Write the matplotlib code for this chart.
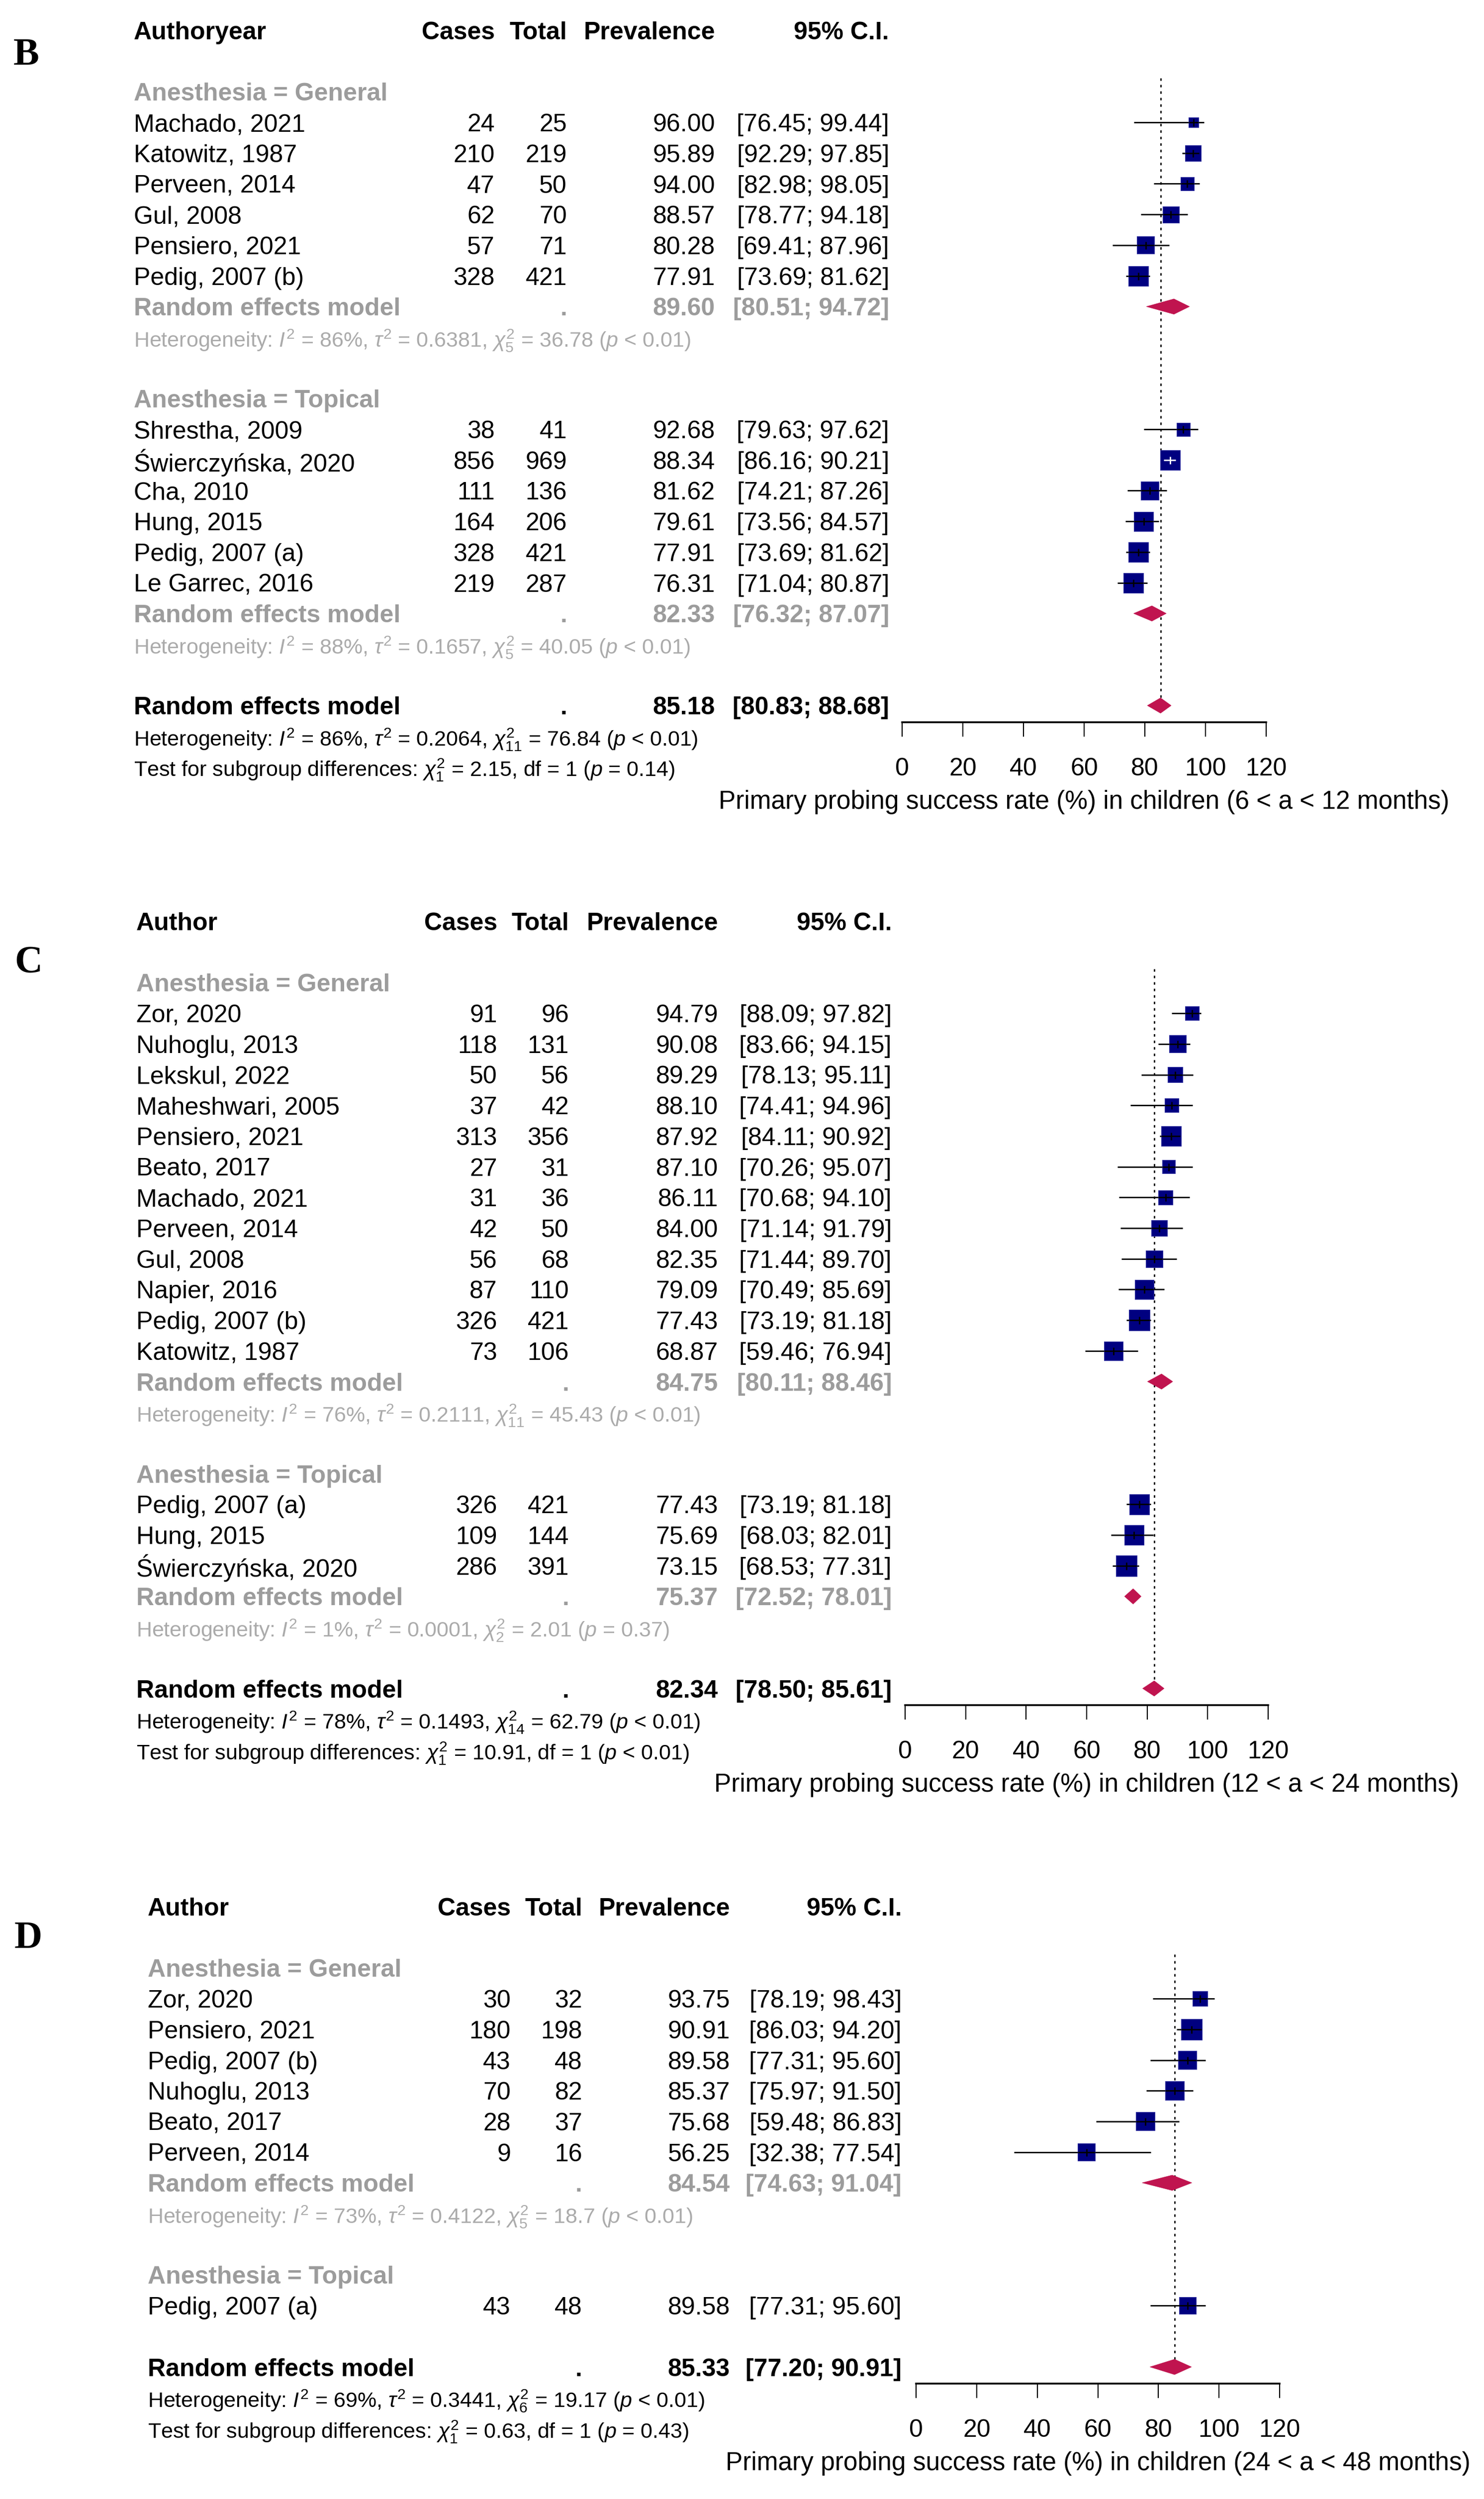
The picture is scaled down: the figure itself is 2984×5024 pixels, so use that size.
import numpy as np
import matplotlib
matplotlib.use("Agg")
import matplotlib.pyplot as plt
from matplotlib import transforms
from matplotlib.patches import Polygon

W, H, DPI = 2984, 5024, 100
plt.rcParams['font.family'] = ['Liberation Sans', 'DejaVu Sans']
plt.rcParams['mathtext.fontset'] = 'custom'
plt.rcParams['mathtext.rm'] = 'Liberation Sans'
plt.rcParams['mathtext.it'] = 'Liberation Sans:italic'
plt.rcParams['mathtext.bf'] = 'Liberation Sans:bold'

# ---------------- B : 6 < a < 12 months ----------------
b_gen_names = ['Machado, 2021', 'Katowitz, 1987', 'Perveen, 2014', 'Gul, 2008',
               'Pensiero, 2021', 'Pedig, 2007 (b)']
b_gen_cases = [24, 210, 47, 62, 57, 328]
b_gen_total = [25, 219, 50, 70, 71, 421]
b_gen_prev = [96.00, 95.89, 94.00, 88.57, 80.28, 77.91]
b_gen_lo = [76.45, 92.29, 82.98, 78.77, 69.41, 73.69]
b_gen_hi = [99.44, 97.85, 98.05, 94.18, 87.96, 81.62]
b_gen_w = [2.7, 7.0, 5.0, 7.4, 8.5, 11.0]   # weights (%)
b_gen_sum = [89.60, 80.51, 94.72]
b_gen_het = ['86%', '0.6381', '36.78', '5', '< 0.01']

b_top_names = ['Shrestha, 2009', 'Świerczyńska, 2020', 'Cha, 2010', 'Hung, 2015',
               'Pedig, 2007 (a)', 'Le Garrec, 2016']
b_top_cases = [38, 856, 111, 164, 328, 219]
b_top_total = [41, 969, 136, 206, 421, 287]
b_top_prev = [92.68, 88.34, 81.62, 79.61, 77.91, 76.31]
b_top_lo = [79.63, 86.16, 74.21, 73.56, 73.69, 71.04]
b_top_hi = [97.62, 90.21, 87.26, 84.57, 81.62, 80.87]
b_top_w = [5.0, 11.0, 9.1, 10.3, 11.0, 11.0]
b_top_sum = [82.33, 76.32, 87.07]
b_top_het = ['88%', '0.1657', '40.05', '5', '< 0.01']

b_all_sum = [85.18, 80.83, 88.68]
b_all_het = ['86%', '0.2064', '76.84', '11', '< 0.01']
b_test = ['2.15', '1', '= 0.14']

# ---------------- C : 12 < a < 24 months ----------------
c_gen_names = ['Zor, 2020', 'Nuhoglu, 2013', 'Lekskul, 2022', 'Maheshwari, 2005',
               'Pensiero, 2021', 'Beato, 2017', 'Machado, 2021', 'Perveen, 2014',
               'Gul, 2008', 'Napier, 2016', 'Pedig, 2007 (b)', 'Katowitz, 1987']
c_gen_cases = [91, 118, 50, 37, 313, 27, 31, 42, 56, 87, 326, 73]
c_gen_total = [96, 131, 56, 42, 356, 31, 36, 50, 68, 110, 421, 106]
c_gen_prev = [94.79, 90.08, 89.29, 88.10, 87.92, 87.10, 86.11, 84.00, 82.35, 79.09, 77.43, 68.87]
c_gen_lo = [88.09, 83.66, 78.13, 74.41, 84.11, 70.26, 70.68, 71.14, 71.44, 70.49, 73.19, 59.46]
c_gen_hi = [97.82, 94.15, 95.11, 94.96, 90.92, 95.07, 94.10, 91.79, 89.70, 85.69, 81.18, 76.94]
c_gen_w = [4.2, 6.5, 4.9, 4.2, 8.4, 3.8, 4.5, 5.7, 6.1, 7.9, 9.4, 7.9]
c_gen_sum = [84.75, 80.11, 88.46]
c_gen_het = ['76%', '0.2111', '45.43', '11', '< 0.01']

c_top_names = ['Pedig, 2007 (a)', 'Hung, 2015', 'Świerczyńska, 2020']
c_top_cases = [326, 109, 286]
c_top_total = [421, 144, 391]
c_top_prev = [77.43, 75.69, 73.15]
c_top_lo = [73.19, 68.03, 68.53]
c_top_hi = [81.18, 82.01, 77.31]
c_top_w = [8.9, 8.4, 9.4]
c_top_sum = [75.37, 72.52, 78.01]
c_top_het = ['1%', '0.0001', '2.01', '2', '= 0.37']

c_all_sum = [82.34, 78.50, 85.61]
c_all_het = ['78%', '0.1493', '62.79', '14', '< 0.01']
c_test = ['10.91', '1', '< 0.01']

# ---------------- D : 24 < a < 48 months ----------------
d_gen_names = ['Zor, 2020', 'Pensiero, 2021', 'Pedig, 2007 (b)', 'Nuhoglu, 2013',
               'Beato, 2017', 'Perveen, 2014']
d_gen_cases = [30, 180, 43, 70, 28, 9]
d_gen_total = [32, 198, 48, 82, 37, 16]
d_gen_prev = [93.75, 90.91, 89.58, 85.37, 75.68, 56.25]
d_gen_lo = [78.19, 86.03, 77.31, 75.97, 59.48, 32.38]
d_gen_hi = [98.43, 94.20, 95.60, 91.50, 86.83, 77.54]
d_gen_w = [9.6, 18.9, 14.8, 15.8, 14.8, 13.0]
d_gen_sum = [84.54, 74.63, 91.04]
d_gen_het = ['73%', '0.4122', '18.7', '5', '< 0.01']

d_top_names = ['Pedig, 2007 (a)']
d_top_cases = [43]
d_top_total = [48]
d_top_prev = [89.58]
d_top_lo = [77.31]
d_top_hi = [95.60]
d_top_w = [13.0]

d_all_sum = [85.33, 77.20, 90.91]
d_all_het = ['69%', '0.3441', '19.17', '6', '< 0.01']
d_test = ['0.63', '1', '= 0.43']

columns = ['Cases', 'Total', 'Prevalence', '95% C.I.']
xticks = [0, 20, 40, 60, 80, 100, 120]
xlab = 'Primary probing success rate (%) in children ({} < a < {} months)'

GRAY = '#9c9c9c'
HGRAY = '#ababab'
NAVY = '#000080'
DIAM = '#c0144f'
ROW = 61.7   # px per row
FS = 36
FS_HET = 31


def het_text(h):
    i2, tau2, q, df, p = h
    return (r'Heterogeneity: $I^2$ = %s, $\tau^2$ = %s, $\chi^2_{%s}$ = %s ($p$ %s)'
            % (i2, tau2, df, q, p))


def test_text(t):
    q, df, p = t
    return r'Test for subgroup differences: $\chi^2_{%s}$ = %s, df = %s ($p$ %s)' % (df, q, df, p)


def forest(fig, letter, header, groups, overall, het_all, test, label, lay):
    # work out rows
    r = 2
    for g in groups:
        g['row_lab'] = r
        g['rows'] = list(range(r + 1, r + 1 + len(g['names'])))
        r = r + 1 + len(g['names'])
        if g.get('sum') is not None:
            g['row_sum'] = r
            r += 2
        r += 1
    ov_row = r
    bottom = ov_row + 0.55

    x0, x1 = lay['x0'], lay['x1']
    top_px = lay['y0'] - 0.5 * ROW
    bot_px = lay['y0'] + bottom * ROW
    ax = fig.add_axes([x0 / W, 1 - bot_px / H, (x1 - x0) / W, (bot_px - top_px) / H])
    ax.set_xlim(0, 120)
    ax.set_ylim(bottom, -0.5)
    for s in ['top', 'left', 'right']:
        ax.spines[s].set_visible(False)
    ax.spines['bottom'].set_linewidth(2.6)
    ax.set_yticks([])
    ax.set_xticks(xticks)
    ax.tick_params(axis='x', direction='out', length=21, width=1.6,
                   labelsize=FS, pad=30)
    ax.patch.set_alpha(0)

    tr = transforms.blended_transform_factory(fig.transFigure, ax.transData)
    fx = lambda px: px / W

    def row_text(row, name, vals, color, weight='normal'):
        ax.text(fx(lay['name']), row, name, transform=tr, ha='left', va='center_baseline',
                fontsize=FS, color=color, fontweight=weight)
        for key, v in zip(['cases', 'total', 'prev', 'ci'], vals):
            ax.text(fx(lay[key]), row, v, transform=tr, ha='right', va='center_baseline',
                    fontsize=FS, color=color, fontweight=weight)

    # header
    ax.text(fx(lay['name']), 0, header, transform=tr, ha='left', va='center_baseline',
            fontsize=FS, fontweight='bold')
    for key, c in zip(['cases', 'total', 'prev', 'ci'], columns):
        ax.text(fx(lay[key]), 0, c, transform=tr, ha='right', va='center_baseline',
                fontsize=FS, fontweight='bold')

    wmax = max(max(g['w']) for g in groups)
    ppu = (x1 - x0) / 120.0

    def diamond(row, s, color):
        est, lo, hi = s
        hh = 0.25
        ax.add_patch(Polygon([(lo, row), (est, row - hh), (hi, row), (est, row + hh)],
                             closed=True, facecolor=color, edgecolor=color, lw=0.5, zorder=5))

    for g in groups:
        ax.text(fx(lay['name']), g['row_lab'], g['label'], transform=tr, ha='left',
                va='center_baseline', fontsize=FS, color=GRAY, fontweight='bold')
        rows = np.array(g['rows'])
        side = lay['box'] * np.sqrt(np.array(g['w']) / wmax)
        for i, row in enumerate(rows):
            row_text(row, g['names'][i],
                     [str(g['cases'][i]), str(g['total'][i]), '%.2f' % g['prev'][i],
                      '[%.2f; %.2f]' % (g['lo'][i], g['hi'][i])], 'black')
        ax.hlines(rows, g['lo'], g['hi'], color='black', lw=2.0, zorder=2)
        ax.scatter(g['prev'], rows, marker='s', s=(side * 72 / DPI) ** 2, facecolor=NAVY,
                   edgecolor='#3a3aa6', linewidths=0.8, zorder=3)
        inside = (np.array(g['hi']) - np.array(g['lo'])) * ppu < side
        for i, row in enumerate(rows):
            col = 'white' if inside[i] else 'black'
            ax.hlines(row, max(g['lo'][i], g['prev'][i] - side[i] / 2 / ppu),
                      min(g['hi'][i], g['prev'][i] + side[i] / 2 / ppu),
                      color=col, lw=2.0, zorder=4)
            ax.scatter([g['prev'][i]], [row], marker='|', s=(15 * 72 / DPI) ** 2,
                       color=col, linewidths=2.0, zorder=4)
        if g.get('sum') is not None:
            s = g['sum']
            row_text(g['row_sum'], 'Random effects model',
                     ['', '.', '%.2f' % s[0], '[%.2f; %.2f]' % (s[1], s[2])], GRAY, 'bold')
            ax.text(fx(lay['name']), g['row_sum'] + 1, het_text(g['het']), transform=tr,
                    ha='left', va='center_baseline', fontsize=FS_HET, color=HGRAY)
            diamond(g['row_sum'], s, DIAM)

    # overall
    row_text(ov_row, 'Random effects model',
             ['', '.', '%.2f' % overall[0], '[%.2f; %.2f]' % (overall[1], overall[2])],
             'black', 'bold')
    ax.text(fx(lay['name']), ov_row + 1, het_text(het_all), transform=tr, ha='left',
            va='center_baseline', fontsize=FS_HET, color='black')
    ax.text(fx(lay['name']), ov_row + 2, test_text(test), transform=tr, ha='left',
            va='center_baseline', fontsize=FS_HET, color='black')
    diamond(ov_row, overall, DIAM)
    ax.vlines(overall[0], 1.55, ov_row, color='black', lw=2.0,
              linestyle=(0, (1.8, 2.9)), zorder=1)

    ax.text(0.5, ov_row + 3.05, label, transform=transforms.blended_transform_factory(
        ax.transAxes, ax.transData), ha='center', va='center_baseline', fontsize=37)

    fig.text(lay['lx'] / W, 1 - lay['ly'] / H, letter, ha='center', va='center',
             fontsize=56, fontweight='bold', family=['Liberation Serif', 'DejaVu Serif'])


def grp(label, names, cases, total, prev, lo, hi, w, summ=None, het=None):
    return dict(label=label, names=names, cases=cases, total=total, prev=prev,
                lo=lo, hi=hi, w=w, sum=summ, het=het)


fig = plt.figure(figsize=(W / DPI, H / DPI), dpi=DPI)

forest(fig, 'B', 'Authoryear',
       [grp('Anesthesia = General', b_gen_names, b_gen_cases, b_gen_total, b_gen_prev,
            b_gen_lo, b_gen_hi, b_gen_w, b_gen_sum, b_gen_het),
        grp('Anesthesia = Topical', b_top_names, b_top_cases, b_top_total, b_top_prev,
            b_top_lo, b_top_hi, b_top_w, b_top_sum, b_top_het)],
       b_all_sum, b_all_het, b_test, xlab.format(6, 12),
       dict(y0=61, name=269, cases=995, total=1140, prev=1438, ci=1788,
            x0=1814, x1=2546, box=40, lx=53, ly=112))

forest(fig, 'C', 'Author',
       [grp('Anesthesia = General', c_gen_names, c_gen_cases, c_gen_total, c_gen_prev,
            c_gen_lo, c_gen_hi, c_gen_w, c_gen_sum, c_gen_het),
        grp('Anesthesia = Topical', c_top_names, c_top_cases, c_top_total, c_top_prev,
            c_top_lo, c_top_hi, c_top_w, c_top_sum, c_top_het)],
       c_all_sum, c_all_het, c_test, xlab.format(12, 24),
       dict(y0=1852, name=274, cases=1000, total=1144, prev=1444, ci=1793,
            x0=1820, x1=2550, box=42, lx=57, ly=1937))

forest(fig, 'D', 'Author',
       [grp('Anesthesia = General', d_gen_names, d_gen_cases, d_gen_total, d_gen_prev,
            d_gen_lo, d_gen_hi, d_gen_w, d_gen_sum, d_gen_het),
        grp('Anesthesia = Topical', d_top_names, d_top_cases, d_top_total, d_top_prev,
            d_top_lo, d_top_hi, d_top_w)],
       d_all_sum, d_all_het, d_test, xlab.format(24, 48),
       dict(y0=3833, name=297, cases=1027, total=1171, prev=1468, ci=1813,
            x0=1842, x1=2573, box=42, lx=57, ly=3897))

fig.savefig('out.png', dpi=DPI)
